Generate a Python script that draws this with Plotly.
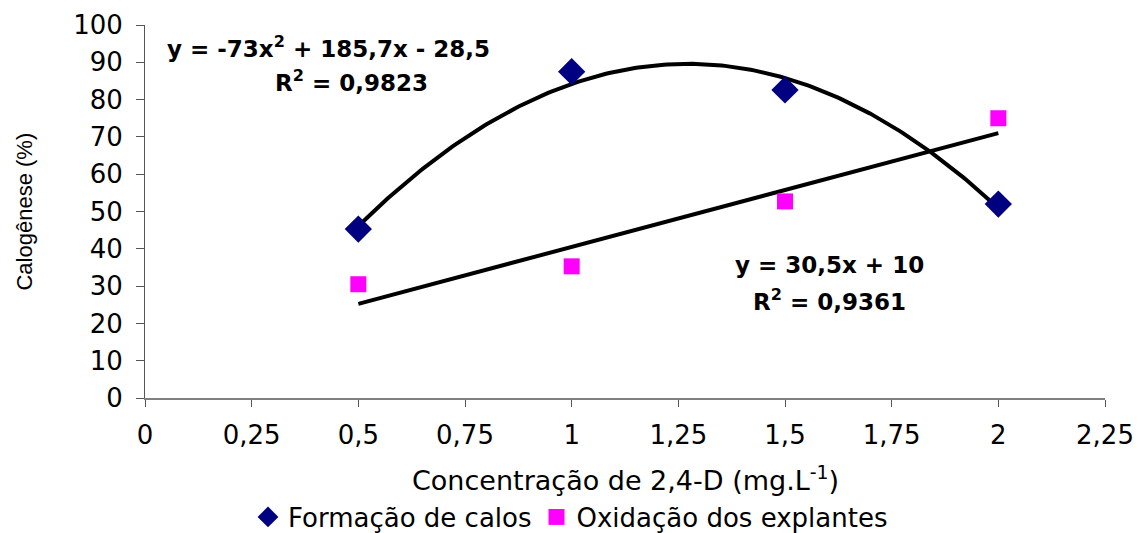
import numpy as np
import plotly.graph_objects as go

conc = [0.5, 1.0, 1.5, 2.0]
formacao = [45.3, 87.5, 82.6, 52.0]
oxidacao = [30.5, 35.3, 52.7, 75.0]
quad_coef = [-73.0, 185.7, -28.5]
lin_coef = [30.5, 10.0]
x_ticks = [0, 0.25, 0.5, 0.75, 1, 1.25, 1.5, 1.75, 2, 2.25]
x_tick_text = ["0", "0,25", "0,5", "0,75", "1", "1,25", "1,5", "1,75", "2", "2,25"]
y_ticks = list(range(0, 101, 10))

xf = np.linspace(conc[0], conc[-1], 200)
yq = np.polyval(quad_coef, xf)
yl = np.polyval(lin_coef, xf)

FONT = "DejaVu Sans, Arial, sans-serif"
NARROW = "Liberation Sans, Arial, sans-serif"
fig = go.Figure()
fig.add_trace(go.Scatter(x=xf, y=yq, mode="lines", line=dict(color="black", width=4),
                         showlegend=False, hoverinfo="skip"))
fig.add_trace(go.Scatter(x=xf, y=yl, mode="lines", line=dict(color="black", width=4),
                         showlegend=False, hoverinfo="skip"))
fig.add_trace(go.Scatter(x=conc, y=formacao, mode="markers", name="Formação de calos",
                         marker=dict(symbol="diamond", size=21, color="#000080")))
fig.add_trace(go.Scatter(x=conc, y=oxidacao, mode="markers", name="Oxidação dos explantes",
                         marker=dict(symbol="square", size=16, color="#FF00FF")))

ann_font = dict(family=FONT, size=23, color="black")
fig.add_annotation(xref="x", yref="y", x=0.43, y=94,
                   text="<b>y = -73x<sup>2</sup> + 185,7x - 28,5</b>",
                   showarrow=False, font=ann_font)
fig.add_annotation(xref="x", yref="y", x=0.485, y=85,
                   text="<b>R<sup>2</sup> = 0,9823</b>",
                   showarrow=False, font=ann_font)
fig.add_annotation(xref="x", yref="y", x=1.605, y=35.6,
                   text="<b>y = 30,5x + 10</b>",
                   showarrow=False, font=ann_font)
fig.add_annotation(xref="x", yref="y", x=1.605, y=26.4,
                   text="<b>R<sup>2</sup> = 0,9361</b>",
                   showarrow=False, font=ann_font)
# axis titles as annotations for precise placement
fig.add_annotation(xref="paper", yref="paper", x=0.5, y=-0.215, yanchor="middle",
                   text="Concentração de 2,4-D (mg.L<sup>-1</sup>)", showarrow=False,
                   font=dict(family=FONT, size=27, color="black"))
fig.add_annotation(xref="paper", yref="paper", x=-0.126, y=0.5, xanchor="center",
                   text="Calogênese (%)", textangle=-90, showarrow=False,
                   font=dict(family=NARROW, size=22, color="black"))

fig.update_layout(
    width=1141, height=533,
    margin=dict(l=145, r=36, t=25, b=135, autoexpand=False),
    paper_bgcolor="white", plot_bgcolor="white",
    font=dict(family=FONT, size=26, color="black"),
    legend=dict(orientation="h", x=0.5, xanchor="center", xref="container",
                y=0.03, yanchor="middle", yref="container",
                font=dict(family=FONT, size=26), itemwidth=30, tracegroupgap=0),
    xaxis=dict(range=[0, 2.25], tickvals=x_ticks, ticktext=x_tick_text, automargin=False,
               showgrid=False, zeroline=False, showline=True, linecolor="#808080",
               linewidth=2, ticks="outside", ticklen=7, tickcolor="#555555",
               ticklabelstandoff=6, tickfont=dict(family=FONT, size=26)),
    yaxis=dict(range=[0, 100], tickvals=y_ticks, showgrid=False, zeroline=False,
               automargin=False,
               showline=True, linecolor="#555555", linewidth=1, ticks="outside",
               ticklen=8, tickcolor="#555555", ticklabelstandoff=8,
               tickfont=dict(family=FONT, size=26)),
)
fig.write_html("out.html", config={"displayModeBar": False},
               post_script="document.body.style.margin='0px';")
